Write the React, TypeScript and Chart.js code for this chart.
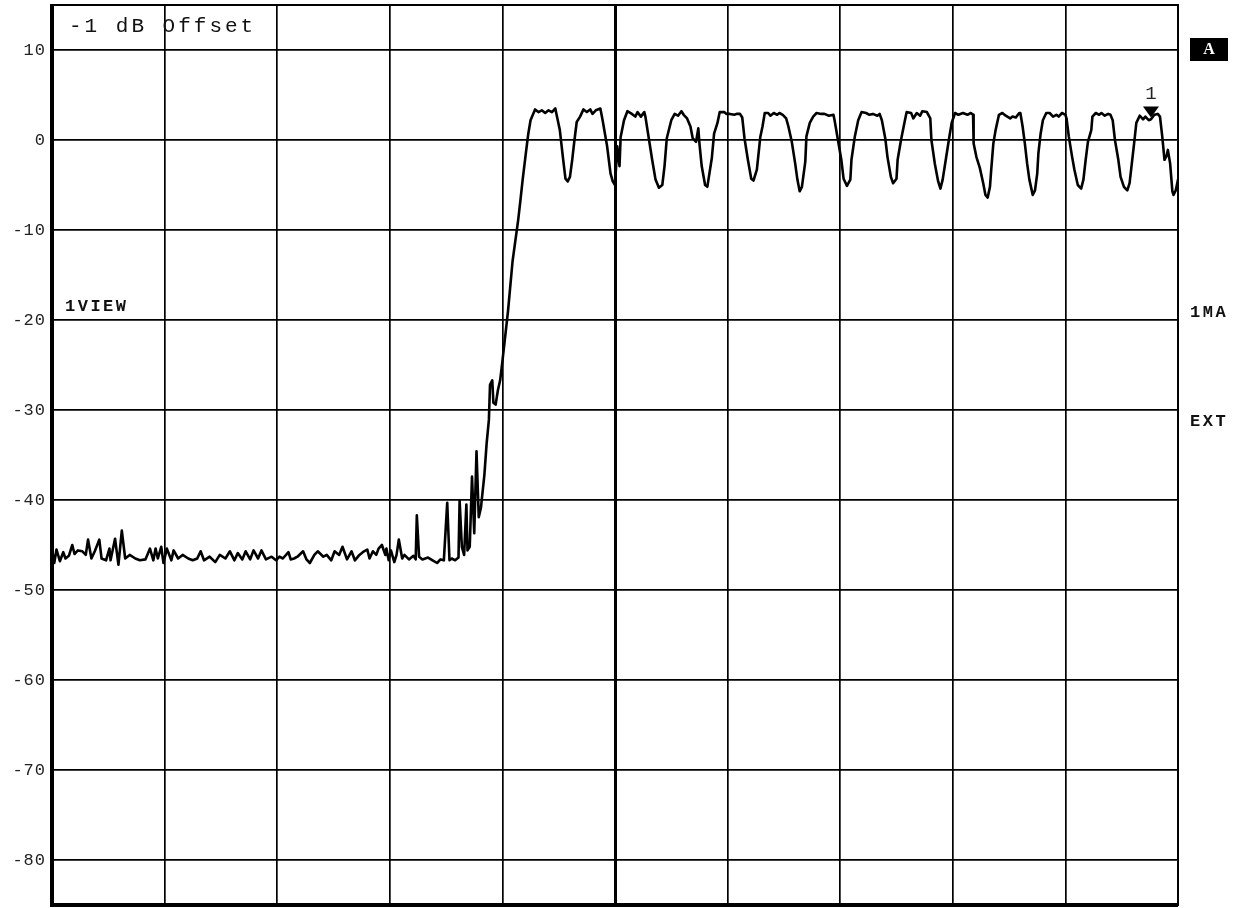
import React, { useEffect, useRef } from "react";
import { Chart, registerables } from "chart.js";

Chart.register(...registerables);

// Axis definitions
const yTicks = [10, 0, -10, -20, -30, -40, -50, -60, -70, -80];
const xDivisions = [0, 10, 20, 30, 40, 50, 60, 70, 80, 90, 100];
const yMin = -85;
const yMax = 15;

// Noise floor (screen x in % of span, level in dB)
const floorX = [0.0, 0.2, 0.4, 0.7, 1.0, 1.2, 1.5, 1.8, 2.0, 2.3, 2.7, 3.0, 3.2, 3.5, 3.8, 4.2, 4.4, 4.8, 5.1, 5.2, 5.6, 5.9, 6.2, 6.5, 6.9, 7.4, 7.8, 8.3, 8.7, 9.0, 9.2, 9.4, 9.7, 9.9, 10.2, 10.6, 10.8, 11.2, 11.6, 12.1, 12.5, 12.9, 13.2, 13.5, 14.0, 14.5, 14.9, 15.4, 15.8, 16.2, 16.5, 16.9, 17.2, 17.6, 17.9, 18.3, 18.6, 19.0, 19.5, 19.9, 20.2, 20.5, 21.0, 21.2, 21.5, 21.8, 22.3, 22.6, 22.9, 23.3, 23.6, 24.1, 24.4, 24.8, 25.1, 25.5, 25.8, 26.2, 26.6, 26.9, 27.3, 27.6, 28.0, 28.2, 28.5, 28.8, 29.0, 29.3, 29.6, 29.7, 29.9, 30.1, 30.4, 30.6, 30.8, 31.1, 31.3, 31.7, 32.1, 32.3, 32.4, 32.6, 32.9, 33.4, 33.8, 34.2, 34.5, 34.8, 35.1, 35.3, 35.5, 35.8, 36.1, 36.2, 36.4, 36.6, 36.8, 36.9, 37.1];
const floorY = [-45.5, -47.0, -45.5, -46.8, -45.8, -46.5, -46.2, -45.0, -46.0, -45.6, -45.7, -46.1, -44.4, -46.5, -45.7, -44.4, -46.5, -46.7, -45.4, -46.7, -44.3, -47.2, -43.4, -46.5, -46.1, -46.5, -46.7, -46.6, -45.4, -46.7, -45.4, -46.5, -45.2, -47.0, -45.4, -46.7, -45.6, -46.5, -46.1, -46.5, -46.7, -46.5, -45.7, -46.7, -46.3, -46.9, -46.1, -46.5, -45.7, -46.7, -45.9, -46.6, -45.7, -46.6, -45.6, -46.5, -45.6, -46.6, -46.3, -46.7, -46.3, -46.5, -45.8, -46.6, -46.5, -46.3, -45.7, -46.6, -47.0, -46.1, -45.7, -46.3, -46.1, -46.7, -45.7, -46.1, -45.2, -46.6, -45.7, -46.7, -46.1, -45.8, -45.5, -46.5, -45.7, -46.1, -45.4, -45.0, -46.1, -45.4, -46.7, -45.6, -46.9, -46.1, -44.4, -46.5, -46.1, -46.6, -46.2, -46.6, -41.7, -46.3, -46.6, -46.4, -46.7, -47.0, -46.6, -46.7, -40.3, -46.7, -46.5, -46.7, -46.4, -40.1, -45.2, -46.1, -40.5, -45.6, -45.2];

// Rising edge
const riseX = [37.3, 37.5, 37.7, 37.9, 38.1, 38.4, 38.6, 38.8, 38.9, 39.1, 39.2, 39.4, 39.6, 39.8, 40.0, 40.5, 40.9, 41.4, 41.6, 41.8, 42.1, 42.3, 42.5];
const riseY = [-37.4, -43.7, -34.6, -41.9, -40.8, -37.2, -33.7, -31.1, -27.2, -26.7, -29.2, -29.4, -27.8, -26.7, -24.6, -19.0, -13.5, -8.9, -6.7, -4.4, -1.3, 0.7, 2.2];

// Burst envelope
const burstX = [42.9, 43.2, 43.5, 43.8, 44.1, 44.4, 44.7, 44.8, 45.1, 45.4, 45.6, 45.8, 46.0, 46.2, 46.4, 46.6, 46.9, 47.2, 47.5, 47.8, 48.0, 48.3, 48.7, 48.9, 49.3, 49.6, 49.8, 50.0, 50.2, 50.4, 50.5, 50.8, 51.1, 51.5, 51.8, 52.0, 52.3, 52.6, 52.7, 53.0, 53.3, 53.6, 53.9, 54.2, 54.4, 54.6, 55.0, 55.3, 55.6, 55.9, 56.1, 56.4, 56.7, 56.9, 57.2, 57.4, 57.5, 57.7, 58.0, 58.2, 58.3, 58.6, 58.8, 59.1, 59.3, 59.7, 59.9, 60.2, 60.6, 60.8, 61.1, 61.3, 61.5, 61.8, 62.1, 62.3, 62.6, 62.9, 63.1, 63.3, 63.6, 63.8, 64.1, 64.4, 64.6, 64.9, 65.2, 65.4, 65.7, 66.0, 66.2, 66.4, 66.6, 66.9, 67.0, 67.3, 67.6, 67.9, 68.3, 68.6, 69.0, 69.4, 69.5, 69.8, 70.1, 70.3, 70.6, 70.9, 71.0, 71.3, 71.6, 71.9, 72.3, 72.6, 72.9, 73.3, 73.5, 73.7, 74.0, 74.2, 74.5, 74.7, 75.0, 75.1, 75.4, 75.7, 75.9, 76.3, 76.5, 76.8, 77.1, 77.3, 77.7, 78.0, 78.1, 78.4, 78.7, 78.9, 79.1, 79.4, 79.7, 79.9, 80.2, 80.5, 80.9, 81.3, 81.6, 81.8, 81.85, 82.1, 82.4, 82.7, 82.9, 83.1, 83.3, 83.4, 83.6, 83.8, 84.1, 84.4, 84.7, 85.1, 85.3, 85.6, 85.9, 86.0, 86.2, 86.4, 86.6, 86.8, 87.1, 87.3, 87.5, 87.6, 87.8, 88.0, 88.3, 88.6, 88.9, 89.2, 89.4, 89.7, 90.0, 90.1, 90.3, 90.6, 90.8, 91.1, 91.4, 91.6, 91.8, 92.0, 92.3, 92.4, 92.7, 93.0, 93.2, 93.5, 93.8, 94.0, 94.2, 94.4, 94.7, 94.9, 95.2, 95.5, 95.7, 95.9, 96.1, 96.3, 96.6, 96.9, 97.1, 97.4, 97.6, 97.9, 98.2, 98.4, 98.6, 98.8, 99.0, 99.1, 99.3, 99.5, 99.6, 99.8, 100.0];
const burstY = [3.4, 3.1, 3.3, 3.0, 3.3, 3.1, 3.5, 2.9, 1.1, -2.2, -4.3, -4.6, -4.1, -2.2, 0.0, 2.0, 2.6, 3.4, 3.1, 3.4, 2.9, 3.3, 3.5, 2.2, -0.7, -3.7, -4.6, -5.0, -0.7, -2.9, 0.3, 2.2, 3.2, 2.9, 2.6, 3.1, 2.6, 3.1, 2.6, 0.2, -2.2, -4.4, -5.3, -5.0, -2.9, 0.2, 2.2, 2.9, 2.7, 3.2, 2.8, 2.4, 1.5, 0.2, -0.2, 1.3, -0.4, -2.9, -5.0, -5.2, -4.4, -2.0, 0.7, 1.9, 3.1, 3.1, 2.9, 2.9, 2.8, 2.9, 2.9, 2.5, 0.2, -2.2, -4.3, -4.5, -3.3, 0.3, 1.5, 3.0, 3.0, 2.7, 3.0, 2.8, 3.0, 2.8, 2.4, 1.5, -0.2, -2.6, -4.4, -5.7, -5.2, -2.4, 0.4, 1.9, 2.6, 3.0, 2.9, 2.9, 2.7, 2.8, 2.2, 0.0, -2.2, -4.3, -5.1, -4.4, -2.2, 0.4, 2.2, 3.1, 3.0, 2.8, 2.9, 2.7, 2.9, 2.2, 0.2, -1.9, -4.1, -4.8, -4.3, -2.2, 0.0, 1.9, 3.1, 3.0, 2.4, 3.0, 2.7, 3.2, 3.1, 2.4, 0.0, -2.6, -4.6, -5.4, -4.4, -2.0, 0.4, 1.9, 3.0, 2.8, 3.0, 2.8, 3.0, 2.8, -0.4, -1.9, -3.1, -4.8, -6.1, -6.4, -5.2, -3.5, -0.4, 1.1, 2.8, 3.0, 2.7, 2.4, 2.6, 2.5, 3.0, 3.0, 1.5, -0.4, -2.6, -4.4, -6.1, -5.6, -3.7, -1.5, 0.7, 2.2, 3.0, 3.0, 2.6, 2.8, 2.6, 3.0, 2.8, 2.4, 0.4, -1.9, -3.3, -5.0, -5.4, -4.4, -2.2, -0.2, 1.1, 2.6, 3.0, 2.8, 3.0, 2.7, 2.9, 2.8, 2.2, 0.0, -2.2, -4.1, -5.2, -5.6, -4.8, -2.6, -0.4, 1.9, 2.7, 2.3, 2.6, 2.2, 2.3, 2.8, 2.9, 2.6, 0.4, -2.2, -1.7, -1.1, -2.6, -5.7, -6.1, -5.6, -4.4];

// Marker 1
const markerX = [97.6];
const markerY = [2.5];
const markerLabels = ["1"];

// Annotation texts
const titleText = "-1 dB Offset";
const leftLabels = ["1VIEW"];
const rightLabels = ["1MA", "EXT"];
const badgeText = "A";

const MONO = "'Liberation Mono', 'DejaVu Sans Mono', monospace";

const framePlugin = {
  id: "frame",
  beforeDraw(chart: any) {
    chart.ctx.letterSpacing = "1px";
  },
  afterDraw(chart: any) {
    const { ctx, chartArea: a, scales } = chart;
    ctx.save();
    ctx.letterSpacing = "0px";
    ctx.strokeStyle = "#000";
    ctx.lineWidth = 2;
    ctx.strokeRect(a.left, a.top, a.right - a.left, a.bottom - a.top);
    ctx.lineWidth = 4;
    ctx.beginPath();
    ctx.moveTo(a.left, a.top - 1);
    ctx.lineTo(a.left, a.bottom);
    ctx.lineTo(a.right, a.bottom);
    ctx.stroke();

    // title text inside plot
    ctx.fillStyle = "#111";
    ctx.textBaseline = "middle";
    ctx.textAlign = "left";
    ctx.font = `21px ${MONO}`;
    ctx.letterSpacing = "3px";
    ctx.fillText(titleText, a.left + 17, a.top + 21);

    ctx.font = `bold 17px ${MONO}`;
    ctx.letterSpacing = "2.5px";
    const yv = scales.y;
    ctx.fillText(leftLabels[0], a.left + 13, yv.getPixelForValue(-20) - 13);
    ctx.fillText(rightLabels[0], a.right + 12, yv.getPixelForValue(-20) - 7);
    ctx.fillText(rightLabels[1], a.right + 12, yv.getPixelForValue(-30) + 12);

    // badge
    ctx.letterSpacing = "0px";
    const bx = a.right + 12;
    const by = yv.getPixelForValue(10) - 12;
    ctx.fillStyle = "#000";
    ctx.fillRect(bx, by, 38, 23);
    ctx.fillStyle = "#fff";
    ctx.textAlign = "center";
    ctx.font = `bold 16px 'Liberation Serif', serif`;
    ctx.fillText(badgeText, bx + 19, by + 12);

    // marker
    const xs = scales.x;
    markerX.forEach((mx, i) => {
      const px = xs.getPixelForValue(mx);
      const py = yv.getPixelForValue(markerY[i]);
      ctx.fillStyle = "#000";
      ctx.beginPath();
      ctx.moveTo(px - 8, py - 11);
      ctx.lineTo(px + 8, py - 11);
      ctx.lineTo(px, py);
      ctx.closePath();
      ctx.fill();
      ctx.fillStyle = "#222";
      ctx.font = `19px ${MONO}`;
      ctx.textAlign = "center";
      ctx.fillText(markerLabels[i], px, py - 24);
    });
    ctx.restore();
  },
};

const zeroPadding = (s: any) => {
  s.paddingTop = 0;
  s.paddingBottom = 0;
  s.paddingLeft = 0;
  s.paddingRight = 0;
};

export default function App() {
  const ref = useRef<HTMLCanvasElement | null>(null);

  useEffect(() => {
    if (!ref.current) return;
    const xs = [...floorX, ...riseX, ...burstX];
    const ys = [...floorY, ...riseY, ...burstY];
    const points = xs.map((x, i) => ({ x, y: ys[i] }));

    const chart = new Chart(ref.current, {
      type: "line",
      data: {
        datasets: [
          {
            data: points,
            borderColor: "#000",
            borderWidth: 2.6,
            pointRadius: 0,
            tension: 0,
            borderJoinStyle: "round",
            borderCapStyle: "round",
          } as any,
        ],
      },
      options: {
        animation: false,
        responsive: false,
        devicePixelRatio: 1,
        events: [],
        layout: { padding: { left: 0, top: 5, right: 60, bottom: 3 } },
        plugins: {
          legend: { display: false },
          tooltip: { enabled: false },
          title: { display: false },
        },
        scales: {
          x: {
            type: "linear",
            min: 0,
            max: 100,
            afterBuildTicks: (s: any) => {
              s.ticks = xDivisions.map((v) => ({ value: v }));
            },
            afterFit: (s: any) => {
              s.height = 0;
              zeroPadding(s);
            },
            ticks: { display: false },
            border: { display: false },
            grid: {
              drawTicks: false,
              color: "#000",
              lineWidth: (c: any) => (c.tick && c.tick.value === 50 ? 3 : 1.7),
            },
          },
          y: {
            type: "linear",
            min: yMin,
            max: yMax,
            afterBuildTicks: (s: any) => {
              s.ticks = yTicks.map((v) => ({ value: v }));
            },
            afterFit: (s: any) => {
              s.width = 52;
              zeroPadding(s);
            },
            border: { display: false },
            grid: { drawTicks: false, color: "#000", lineWidth: 1.7 },
            ticks: {
              padding: 6,
              color: "#222",
              font: { family: MONO, size: 17 },
              callback: (v: any) => String(v),
            },
          },
        },
      },
      plugins: [framePlugin],
    });
    return () => chart.destroy();
  }, []);

  return (
    <div style={{ position: "absolute", left: 0, top: 0, width: 1238, height: 908, background: "#fff" }}>
      <canvas ref={ref} width={1238} height={908} style={{ width: 1238, height: 908 }} />
    </div>
  );
}
